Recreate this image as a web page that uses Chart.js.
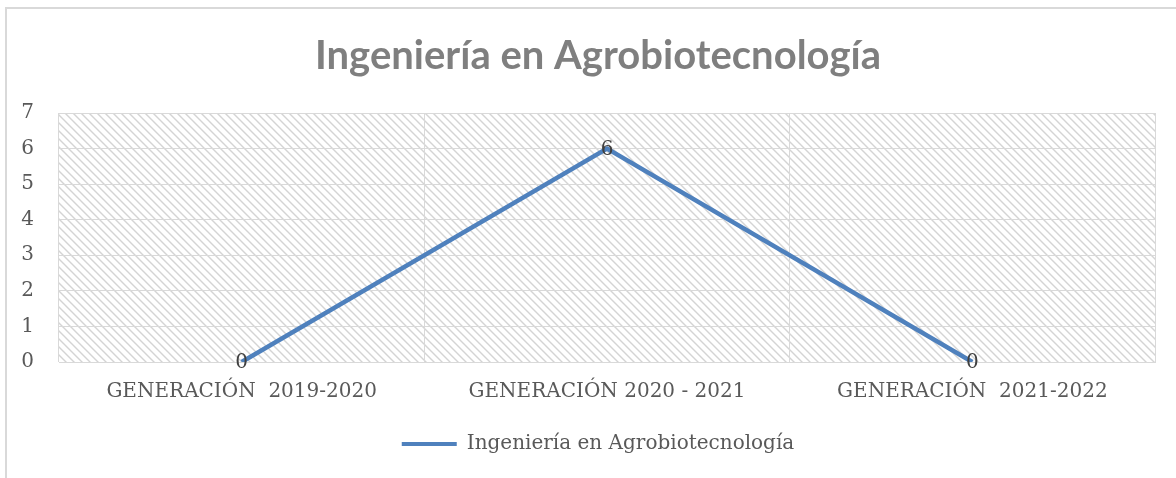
<!DOCTYPE html>
<html>
<head>
<meta charset="utf-8">
<script src="https://cdn.jsdelivr.net/npm/chart.js@4.4.1/dist/chart.umd.min.js"></script>
<style>
  html, body { margin: 0; padding: 0; background: #ffffff; }
  #wrap { width: 1176px; height: 478px; position: relative; }
</style>
</head>
<body>
<div id="wrap"><canvas id="chart" width="1176" height="478"></canvas></div>
<script>
// Series data
const categories = ['GENERACIÓN  2019-2020', 'GENERACIÓN 2020 - 2021', 'GENERACIÓN  2021-2022'];
const seriesName = 'Ingeniería en Agrobiotecnología';
const seriesValues = [0, 6, 0];
const yTickValues = [0, 1, 2, 3, 4, 5, 6, 7];
const chartTitle = 'Ingeniería en Agrobiotecnología';

const SERIF = '"DejaVu Serif", "Liberation Serif", serif';
const LINE_BLUE = '#4f81bd';
const GRID_GREY = '#d9d9d9';
const TEXT_GREY = '#595959';

// Diagonal hatch tile for the plot background
function makeHatch(ctx) {
  const tile = document.createElement('canvas');
  tile.width = 8; tile.height = 8;
  const g = tile.getContext('2d');
  g.strokeStyle = '#d4d4d4';
  g.lineWidth = 1.4;
  g.beginPath();
  g.moveTo(-1, -1); g.lineTo(9, 9);
  g.moveTo(-1, 7); g.lineTo(1, 9);
  g.moveTo(7, -1); g.lineTo(9, 1);
  g.stroke();
  return ctx.createPattern(tile, 'repeat');
}

const framePlugin = {
  id: 'frameAndHatch',
  beforeDraw(chart) {
    const { ctx, chartArea: a } = chart;
    ctx.save();
    ctx.strokeStyle = GRID_GREY;
    ctx.lineWidth = 2;
    ctx.beginPath();
    ctx.moveTo(6, chart.height + 5);
    ctx.lineTo(6, 8);
    ctx.lineTo(chart.width + 5, 8);
    ctx.stroke();
    ctx.fillStyle = makeHatch(ctx);
    ctx.fillRect(a.left, a.top, a.right - a.left, a.bottom - a.top);
    ctx.restore();
  }
};

const valueLabels = {
  id: 'valueLabels',
  afterDatasetsDraw(chart) {
    const { ctx } = chart;
    const meta = chart.getDatasetMeta(0);
    ctx.save();
    ctx.font = '20px ' + SERIF;
    ctx.fillStyle = '#404040';
    ctx.textAlign = 'center';
    ctx.textBaseline = 'middle';
    meta.data.forEach((pt, i) => {
      ctx.fillText(String(seriesValues[i]), pt.x, pt.y + 1);
    });
    ctx.restore();
  }
};

const ctx = document.getElementById('chart').getContext('2d');
new Chart(ctx, {
  type: 'line',
  data: {
    labels: categories,
    datasets: [{
      label: seriesName,
      data: seriesValues,
      borderColor: LINE_BLUE,
      backgroundColor: LINE_BLUE,
      borderWidth: 4.5,
      pointRadius: 0,
      tension: 0,
      yAxisID: 'y'
    }]
  },
  options: {
    responsive: false,
    devicePixelRatio: 1,
    animation: false,
    layout: { padding: { left: 20, right: 0, top: 0, bottom: 14 } },
    plugins: {
      title: {
        display: true,
        text: chartTitle,
        color: '#7f7f7f',
        font: { family: 'Lato, "Open Sans", sans-serif', size: 40, weight: 'bold' },
        padding: { top: 32, bottom: 33 }
      },
      legend: {
        position: 'bottom',
        labels: {
          font: { family: SERIF, size: 20 },
          color: TEXT_GREY,
          boxWidth: 55,
          boxHeight: 4,
          padding: 12,
          generateLabels(chart) {
            return Chart.defaults.plugins.legend.labels.generateLabels(chart).map(l => {
              l.lineWidth = 0;
              l.fillStyle = LINE_BLUE;
              l.strokeStyle = LINE_BLUE;
              return l;
            });
          }
        }
      },
      tooltip: { enabled: false }
    },
    scales: {
      x: {
        offset: true,
        grid: { offset: true, color: GRID_GREY, lineWidth: 1, drawTicks: false },
        border: { color: GRID_GREY, width: 1 },
        ticks: { font: { family: SERIF, size: 20 }, color: TEXT_GREY, padding: 18, maxRotation: 0, autoSkip: false }
      },
      y: {
        position: 'left',
        min: 0,
        max: 7,
        afterFit(scale) { scale.width = 39; },
        afterBuildTicks(scale) { scale.ticks = yTickValues.map(v => ({ value: v })); },
        grid: { color: GRID_GREY, lineWidth: 1, drawTicks: false },
        border: { display: false },
        ticks: { font: { family: SERIF, size: 20 }, color: TEXT_GREY, padding: 25 }
      },
      // empty right-hand margin strip beside the plot
      yRight: {
        position: 'right',
        min: 0,
        max: 7,
        afterFit(scale) { scale.width = 21; },
        grid: { display: false, drawTicks: false },
        border: { display: false },
        ticks: { display: false }
      }
    }
  },
  plugins: [framePlugin, valueLabels]
});
</script>
</body>
</html>
